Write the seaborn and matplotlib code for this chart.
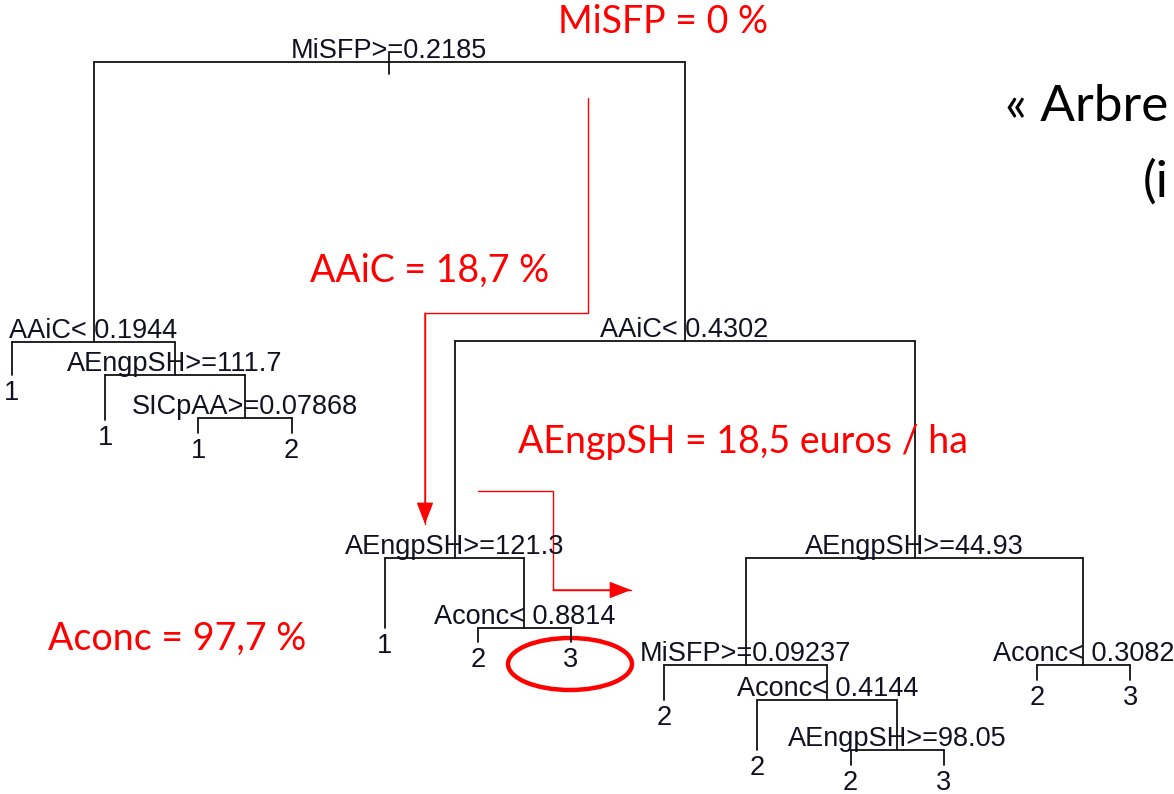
import matplotlib
matplotlib.use("Agg")
import matplotlib.pyplot as plt
from matplotlib.patches import Ellipse
import pandas as pd
import seaborn as sns

# rpart tree, nodes in preorder
node_labels = ["MiSFP>=0.2185", "AAiC< 0.1944", "1", "AEngpSH>=111.7", "1",
               "SICpAA>=0.07868", "1", "2", "AAiC< 0.4302", "AEngpSH>=121.3",
               "1", "Aconc< 0.8814", "2", "3", "AEngpSH>=44.93", "MiSFP>=0.09237",
               "2", "Aconc< 0.4144", "2", "AEngpSH>=98.05", "2", "3",
               "Aconc< 0.3082", "2", "3"]
node_parent = [-1, 0, 1, 1, 3, 3, 5, 5, 0, 8, 9, 9, 11, 11, 8, 14, 15, 15,
               17, 17, 19, 19, 14, 22, 22]
node_height = [62, 342, 375, 375, 420, 418, 433, 433, 341, 558, 628, 628,
               642, 642, 558, 665, 700, 700, 750, 750, 765, 765, 665, 680, 680]

# red annotations
notes = ["MiSFP = 0 %", "AAiC = 18,7 %", "AEngpSH = 18,5 euros / ha", "Aconc = 97,7 %"]
notes_xy = [(558, 33), (310, 282), (518, 453), (48, 650)]
path1_x = [588, 588, 425, 425]
path1_y = [98, 313, 313, 524]
path2_x = [478, 553, 553, 631]
path2_y = [491, 491, 590, 590]

LEAF_X0, LEAF_STEP = 12, 93.17

n = len(node_labels)
children = {i: [j for j in range(n) if node_parent[j] == i] for i in range(n)}
is_leaf = [len(children[i]) == 0 for i in range(n)]

node_x = [0.0] * n
k = 0
for i in range(n):
    if is_leaf[i]:
        node_x[i] = LEAF_X0 + LEAF_STEP * k
        k += 1
for i in reversed(range(n)):
    if not is_leaf[i]:
        node_x[i] = sum(node_x[c] for c in children[i]) / len(children[i])

rows = []
seg = 0
for i in range(n):
    if is_leaf[i]:
        continue
    l, r = children[i]
    rows += [(seg, node_x[l], node_height[i]), (seg, node_x[r], node_height[i])]
    seg += 1
    for c in (l, r):
        rows += [(seg, node_x[c], node_height[i]), (seg, node_x[c], node_height[c])]
        seg += 1
# small stub on the root
rows += [(seg, node_x[0], node_height[0] - 10), (seg, node_x[0], node_height[0] + 12)]
segs = pd.DataFrame(rows, columns=["seg", "x", "y"])

sns.set_style("white")
fig = plt.figure(figsize=(11.74, 7.94), dpi=100)
ax = fig.add_axes([0, 0, 1, 1])

sns.lineplot(data=segs, x="x", y="y", units="seg", estimator=None, sort=False,
             color="#111111", linewidth=1.3, ax=ax)

for i in range(n):
    if is_leaf[i]:
        ax.text(node_x[i], node_height[i] + 5, node_labels[i], ha="center", va="top",
                fontsize=19.5, family="Liberation Sans", color="#111122")
    else:
        ax.text(node_x[i], node_height[i] - 4, node_labels[i], ha="center", va="baseline",
                fontsize=19.5, family="Liberation Sans", color="#111122")

red = "#ff0000"
paths = pd.DataFrame({
    "x": path1_x + path2_x,
    "y": path1_y + path2_y,
    "p": [0] * len(path1_x) + [1] * len(path2_x),
})
sns.lineplot(data=paths, x="x", y="y", units="p", estimator=None, sort=False,
             color=red, linewidth=1.0, ax=ax)
for px, py in [(path1_x, path1_y), (path2_x, path2_y)]:
    ax.annotate("", xy=(px[-1], py[-1]), xytext=(px[-2], py[-2]),
                arrowprops=dict(arrowstyle="-|>,head_length=0.9,head_width=0.35",
                                color=red, lw=1.0, mutation_scale=15,
                                shrinkA=0, shrinkB=0))

ax.add_patch(Ellipse((570, 664), 124, 52, fill=False, edgecolor=red, linewidth=3.2))

for txt, (tx, ty) in zip(notes, notes_xy):
    ax.text(tx, ty, txt, ha="left", va="baseline", fontsize=27, family="Lato", color=red)

ax.text(1005, 121, "« Arbre", ha="left", va="baseline", fontsize=37, family="Lato", color="black")
ax.text(1143, 197, "(i", ha="left", va="baseline", fontsize=37, family="Lato", color="black")

ax.set_xlim(0, 1174)
ax.set_ylim(794, 0)
ax.axis("off")
fig.savefig("out.png", dpi=100)
